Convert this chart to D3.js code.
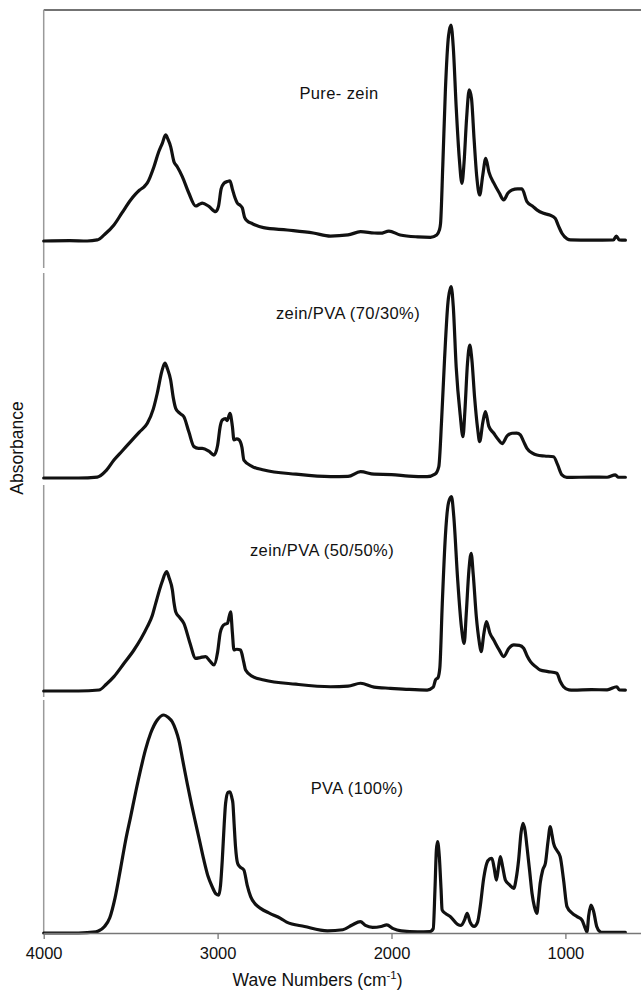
<!DOCTYPE html>
<html>
<head>
<meta charset="utf-8">
<script src="https://cdn.jsdelivr.net/npm/d3@7"></script>
<style>
  html, body { margin: 0; padding: 0; background: #fff; }
  svg { display: block; font-family: "Liberation Sans", Arial, sans-serif; }
</style>
</head>
<body>
<div id="chart"></div>
<script>
// Spectra: [wave number (cm-1), absorbance normalised to the tallest band]
const pureZein = [
  [4000,0],[3850,0.002],[3750,0],[3692,0.005],[3650,0.03],[3596,0.074],[3550,0.13],[3500,0.19],
  [3450,0.235],[3423,0.251],[3404,0.269],[3366,0.344],[3340,0.41],[3318,0.452],[3299,0.491],
  [3285,0.47],[3270,0.437],[3251,0.367],[3232,0.344],[3203,0.298],[3165,0.221],[3126,0.162],
  [3105,0.17],[3088,0.175],[3050,0.16],[3011,0.136],[2995,0.16],[2980,0.24],[2964,0.267],
  [2945,0.275],[2929,0.279],[2915,0.24],[2900,0.2],[2887,0.176],[2870,0.165],[2858,0.153],
  [2845,0.11],[2830,0.093],[2800,0.08],[2736,0.062],[2600,0.051],[2450,0.037],[2351,0.023],
  [2250,0.028],[2178,0.043],[2100,0.037],[2063,0.036],[2015,0.046],[1950,0.028],[1850,0.019],
  [1776,0.017],[1740,0.028],[1725,0.05],[1718,0.08],[1705,0.35],[1690,0.7],[1672,0.95],
  [1658,1.0],[1645,0.9],[1628,0.62],[1610,0.38],[1595,0.267],[1583,0.36],[1568,0.57],
  [1553,0.70],[1540,0.66],[1525,0.47],[1510,0.3],[1493,0.213],[1475,0.306],[1458,0.383],
  [1440,0.32],[1412,0.269],[1380,0.222],[1355,0.19],[1330,0.222],[1307,0.236],[1275,0.241],
  [1250,0.241],[1221,0.182],[1190,0.162],[1164,0.144],[1126,0.128],[1090,0.12],[1059,0.105],
  [1040,0.07],[1020,0.036],[990,0.01],[971,0.005],[850,0.004],[724,0.005],[707,0.023],
  [690,0.005],[655,0.004]
];

const zeinPva7030 = [
  [4000,0],[3800,0],[3692,0.005],[3640,0.04],[3596,0.094],[3550,0.14],[3500,0.19],[3450,0.24],
  [3404,0.286],[3370,0.36],[3347,0.443],[3320,0.56],[3303,0.60],[3288,0.57],[3270,0.512],
  [3255,0.42],[3241,0.364],[3220,0.34],[3194,0.32],[3165,0.24],[3136,0.164],[3110,0.155],
  [3088,0.155],[3050,0.14],[3021,0.12],[3000,0.17],[2985,0.27],[2973,0.303],[2955,0.31],
  [2945,0.30],[2929,0.338],[2915,0.27],[2906,0.199],[2890,0.205],[2877,0.2],[2860,0.16],
  [2849,0.094],[2800,0.06],[2734,0.042],[2550,0.02],[2351,0.007],[2250,0.008],[2178,0.033],
  [2100,0.02],[2000,0.018],[1900,0.01],[1795,0.007],[1750,0.02],[1728,0.06],[1712,0.3],
  [1695,0.62],[1675,0.92],[1657,1.0],[1645,0.9],[1628,0.58],[1605,0.33],[1589,0.216],
  [1578,0.35],[1563,0.6],[1550,0.695],[1538,0.62],[1522,0.42],[1505,0.26],[1493,0.19],
  [1475,0.29],[1460,0.347],[1440,0.27],[1412,0.234],[1385,0.2],[1364,0.18],[1335,0.22],
  [1307,0.234],[1280,0.235],[1259,0.225],[1240,0.19],[1221,0.155],[1190,0.13],[1164,0.12],
  [1120,0.115],[1068,0.111],[1045,0.07],[1020,0.016],[992,0.003],[850,0.005],[760,0.004],
  [713,0.016],[695,0.004],[655,0.004]
];

const zeinPva5050 = [
  [4000,0],[3800,0],[3682,0.005],[3640,0.035],[3596,0.074],[3540,0.14],[3481,0.211],
  [3440,0.27],[3404,0.331],[3375,0.39],[3356,0.451],[3320,0.56],[3293,0.614],[3278,0.58],
  [3260,0.52],[3250,0.45],[3241,0.408],[3220,0.38],[3194,0.348],[3160,0.25],[3126,0.168],
  [3100,0.172],[3069,0.177],[3045,0.155],[3021,0.134],[3000,0.2],[2985,0.3],[2973,0.331],
  [2955,0.345],[2944,0.348],[2925,0.408],[2915,0.3],[2906,0.211],[2890,0.215],[2868,0.211],
  [2850,0.15],[2839,0.108],[2800,0.075],[2734,0.057],[2550,0.035],[2351,0.022],[2250,0.025],
  [2178,0.04],[2100,0.02],[2006,0.014],[1900,0.008],[1795,0.005],[1760,0.02],[1747,0.057],
  [1732,0.07],[1722,0.12],[1708,0.45],[1690,0.8],[1672,0.97],[1655,1.0],[1642,0.9],
  [1620,0.58],[1598,0.33],[1582,0.245],[1570,0.4],[1555,0.62],[1542,0.709],[1530,0.6],
  [1512,0.38],[1495,0.25],[1485,0.202],[1468,0.3],[1454,0.357],[1435,0.3],[1412,0.262],
  [1380,0.21],[1355,0.177],[1325,0.22],[1297,0.237],[1265,0.235],[1240,0.22],[1220,0.18],
  [1201,0.151],[1170,0.125],[1145,0.108],[1100,0.1],[1049,0.091],[1030,0.05],[1011,0.022],
  [980,0.006],[954,0.005],[850,0.007],[760,0.006],[705,0.022],[690,0.006],[655,0.005]
];

const pva100 = [
  [4000,0],[3800,0],[3700,0.005],[3684,0.01],[3650,0.03],[3620,0.07],[3590,0.16],[3557,0.3],
  [3530,0.42],[3500,0.534],[3470,0.65],[3443,0.748],[3415,0.84],[3385,0.916],[3347,0.977],
  [3309,1.0],[3285,0.99],[3261,0.969],[3240,0.93],[3223,0.885],[3200,0.79],[3175,0.687],
  [3150,0.59],[3126,0.503],[3100,0.41],[3079,0.335],[3055,0.26],[3031,0.212],[3010,0.18],
  [2993,0.174],[2983,0.22],[2973,0.335],[2962,0.5],[2954,0.595],[2940,0.645],[2929,0.648],
  [2918,0.62],[2912,0.595],[2905,0.5],[2897,0.396],[2885,0.32],[2872,0.304],[2849,0.289],
  [2830,0.22],[2810,0.167],[2780,0.13],[2753,0.113],[2700,0.09],[2638,0.067],[2603,0.05],
  [2500,0.03],[2368,0.01],[2280,0.015],[2226,0.037],[2179,0.052],[2150,0.035],[2109,0.026],
  [2060,0.03],[2027,0.037],[1990,0.02],[1944,0.01],[1850,0.005],[1780,0.006],[1760,0.02],
  [1750,0.2],[1742,0.38],[1735,0.419],[1725,0.35],[1715,0.2],[1709,0.106],[1690,0.09],
  [1661,0.075],[1620,0.04],[1600,0.035],[1580,0.06],[1565,0.09],[1548,0.05],[1525,0.03],
  [1505,0.05],[1490,0.12],[1470,0.25],[1452,0.32],[1435,0.34],[1423,0.343],[1410,0.3],
  [1397,0.243],[1385,0.3],[1374,0.35],[1360,0.3],[1345,0.243],[1320,0.22],[1297,0.205],
  [1283,0.25],[1269,0.335],[1255,0.46],[1244,0.503],[1232,0.47],[1221,0.396],[1205,0.28],
  [1192,0.182],[1178,0.12],[1164,0.09],[1155,0.15],[1145,0.228],[1130,0.29],[1115,0.32],
  [1100,0.42],[1087,0.488],[1077,0.45],[1068,0.411],[1050,0.38],[1030,0.35],[1010,0.24],
  [991,0.121],[960,0.09],[933,0.075],[905,0.06],[885,0.02],[876,0.005],[866,0.08],[853,0.128],
  [838,0.1],[820,0.03],[800,0.005],[793,0.003],[700,0.003],[655,0.003]
];

const seriesNames = ["Pure- zein", "zein/PVA (70/30%)", "zein/PVA (50/50%)", "PVA (100%)"];
const seriesData = [pureZein, zeinPva7030, zeinPva5050, pva100];
const xTicks = [4000, 3000, 2000, 1000];

// Layout of the stacked panels (pixels)
const W = 641, H = 995;
const X0 = 43.7, XEND = 641;
const panels = [
  {top: 10,  bottom: 268, base: 241, peak: 25,    labelX: 339, labelY: 95},
  {top: 273, bottom: 479, base: 478, peak: 286.7, labelX: 348, labelY: 315},
  {top: 485, bottom: 697, base: 691, peak: 496.7, labelX: 322, labelY: 552},
  {top: 700, bottom: 933, base: 933, peak: 715,   labelX: 357, labelY: 790},
];

const svg = d3.select('#chart').append('svg')
  .attr('width', W).attr('height', H);

// wave numbers run right to left
const x = d3.scaleLinear().domain([4000, 1000]).range([X0, X0 + 3 * 173.9]);
const xEndValue = x.invert(XEND);
x.domain([4000, xEndValue]).range([X0, XEND]);

// top frame line
svg.append('line')
  .attr('x1', X0).attr('x2', XEND).attr('y1', 10).attr('y2', 10)
  .attr('stroke', '#444').attr('stroke-width', 1.3);

panels.forEach((p, i) => {
  const y = d3.scaleLinear().domain([0, 1]).range([p.base, p.peak]);

  // left axis segment for this panel
  svg.append('line')
    .attr('x1', X0).attr('x2', X0)
    .attr('y1', p.top).attr('y2', p.bottom)
    .attr('stroke', '#9a9a9a').attr('stroke-width', 1.5);

  const line = d3.line()
    .x(d => x(d[0]))
    .y(d => y(d[1]))
    .curve(d3.curveMonotoneX);

  svg.append('path')
    .datum(seriesData[i])
    .attr('d', line)
    .attr('fill', 'none')
    .attr('stroke', '#111')
    .attr('stroke-width', 3.2)
    .attr('stroke-linejoin', 'round')
    .attr('stroke-linecap', 'round');

  svg.append('text')
    .attr('x', p.labelX).attr('y', p.labelY)
    .attr('text-anchor', 'middle')
    .attr('dominant-baseline', 'middle')
    .attr('font-size', 16.5)
    .attr('letter-spacing', 0.4)
    .attr('fill', '#111')
    .text(seriesNames[i]);
});

// bottom axis
const xAxis = d3.axisBottom(x)
  .tickValues(xTicks)
  .tickSize(6)
  .tickSizeOuter(0)
  .tickPadding(8)
  .tickFormat(d3.format('d'));

const gx = svg.append('g')
  .attr('transform', `translate(0,${panels[3].bottom})`)
  .call(xAxis);
gx.select('.domain').attr('stroke', '#777').attr('stroke-width', 1.5);
gx.selectAll('.tick line').attr('stroke', '#777').attr('stroke-width', 1.3);
gx.selectAll('.tick text')
  .attr('font-size', 16.5)
  .attr('font-family', '"Liberation Sans", Arial, sans-serif')
  .attr('fill', '#111');

// axis titles
const xt = svg.append('text')
  .attr('x', (x(4000) + x(1000)) / 2 + 13)
  .attr('y', 986)
  .attr('text-anchor', 'middle')
  .attr('font-size', 17.5)
  .attr('fill', '#111');
xt.append('tspan').text('Wave Numbers (cm');
xt.append('tspan').attr('dy', -7).attr('font-size', 11.5).text('-1');
xt.append('tspan').attr('dy', 7).text(')');

svg.append('text')
  .attr('transform', `translate(23,448) rotate(-90)`)
  .attr('text-anchor', 'middle')
  .attr('font-size', 17.5)
  .attr('fill', '#111')
  .text('Absorbance');
</script>
</body>
</html>
